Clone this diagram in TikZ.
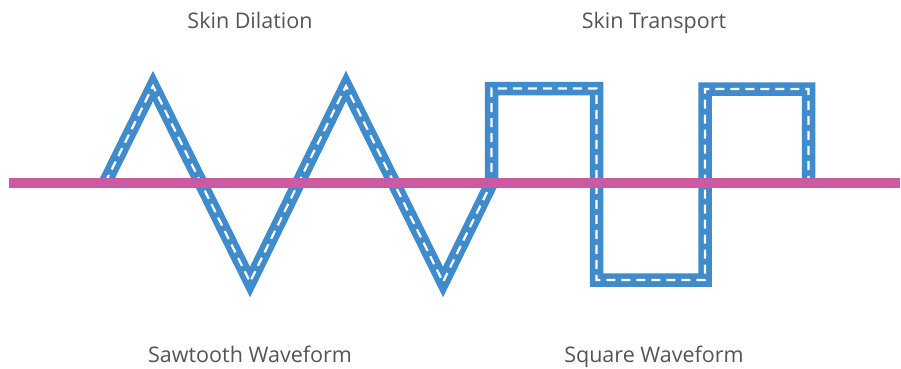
\documentclass[tikz,border=0pt]{standalone}
\usepackage{fontspec}
\setmainfont{Open Sans}
\definecolor{onda}{HTML}{3F8BCB}
\definecolor{eje}{HTML}{CC5AA2}
\definecolor{rotulo}{HTML}{555555}
\tikzset{
  wavepath/.style={draw=onda, line width=13.5pt, line join=miter, miter limit=20},
  wavedash/.style={draw=white, line width=2.2pt, dash pattern=on 9pt off 6pt},
  caption/.style={text=rotulo, anchor=base, font=\fontsize{21.5}{24}\selectfont}
}
\begin{document}
\begin{tikzpicture}[x=1pt, y=-1pt]
  \useasboundingbox (0,0) rectangle (901,368);
  % sawtooth + square wave
  \def\wave{(105,183) -- (153,86) -- (250,282) -- (346,86) -- (443,282) -- (491.5,183)
    -- (491.5,88.5) -- (596.5,88.5) -- (596.5,280) -- (705,280) -- (705,89)
    -- (808.5,89) -- (808.5,183)}
  \draw[wavepath] \wave;
  \draw[wavedash] \wave;
  % axis
  \draw[eje, line width=10pt] (9,183) -- (900,183);
  \node[caption] (dilation)  at (250,28.5)  {Skin Dilation};
  \node[caption] (transport) at (654,28.5)  {Skin Transport};
  \node[caption] (sawtooth)  at (250,362.5) {Sawtooth Waveform};
  \node[caption] (square)    at (654,362.5) {Square Waveform};
\end{tikzpicture}
\end{document}
